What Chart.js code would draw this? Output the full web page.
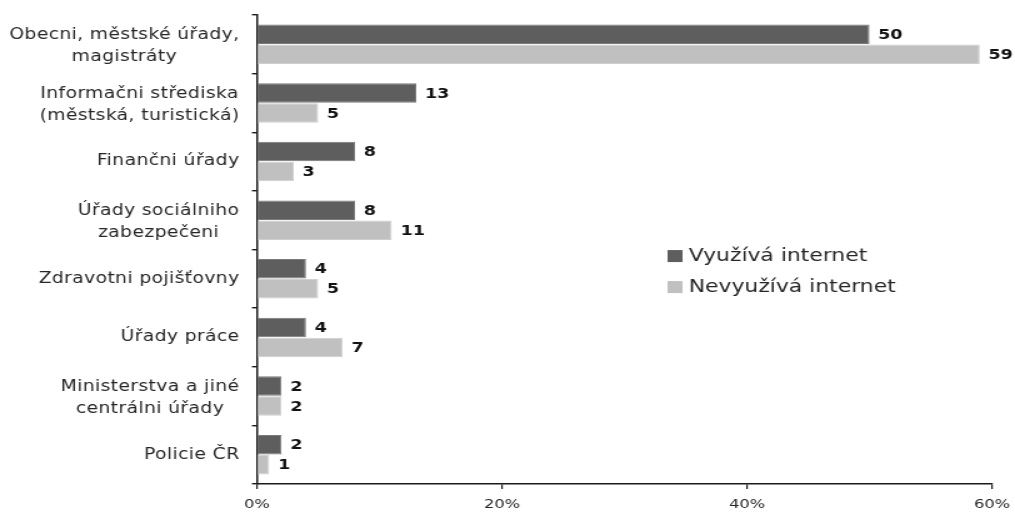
<!DOCTYPE html>
<html>
<head>
<meta charset="utf-8">
<script src="https://cdn.jsdelivr.net/npm/chart.js@4/dist/chart.umd.min.js"></script>
<style>
  html, body { margin: 0; padding: 0; background: #fff; overflow: hidden; }
  /* the chart is laid out on a narrower canvas and widened horizontally */
  #wrap { width: 812px; height: 514px; transform: scaleX(1.25); transform-origin: 0 0; }
</style>
</head>
<body>
<div id="wrap"><canvas id="c"></canvas></div>
<script>
// Categories (multi-line labels are arrays of lines)
const categories = [
  ["Obecni, městské úřady,", "magistráty"],
  ["Informačni střediska", "(městská, turistická)"],
  ["Finančni úřady"],
  ["Úřady sociálniho", "zabezpečeni"],
  ["Zdravotni pojišťovny"],
  ["Úřady práce"],
  ["Ministerstva a jiné", "centrálni úřady"],
  ["Policie ČR"]
];
const seriesNames = ["Využívá internet", "Nevyužívá internet"];
const usesInternet = [50, 13, 8, 8, 4, 4, 2, 2];
const noInternet   = [59, 5, 3, 11, 5, 7, 2, 1];
const xTicks = [0, 20, 40, 60];

const FONT = "'DejaVu Sans', Verdana, sans-serif";
const TEXT = "#262626";

// Category labels: block right-aligned to the axis, lines centred within the block
const categoryLabels = {
  id: 'categoryLabels',
  afterDraw(chart) {
    const ctx = chart.ctx, y = chart.scales.y;
    ctx.save();
    ctx.font = "15px " + FONT;
    ctx.letterSpacing = "0.3px";
    ctx.fillStyle = TEXT;
    ctx.textAlign = 'center';
    ctx.textBaseline = 'middle';
    const right = y.right - 14;
    const lh = 22;
    chart.data.labels.forEach((lines, i) => {
      const w = Math.max(...lines.map(l => ctx.measureText(l).width));
      const cx = right - w / 2;
      const cy = y.getPixelForValue(i) + (lines.length > 1 ? 2 : 0);
      lines.forEach((l, k) => {
        ctx.fillText(l, cx, cy + (k - (lines.length - 1) / 2) * lh);
      });
    });
    ctx.restore();
  }
};

// Value labels at the end of each bar
const valueLabels = {
  id: 'valueLabels',
  afterDatasetsDraw(chart) {
    const ctx = chart.ctx;
    ctx.save();
    ctx.font = "bold 14px " + FONT;
    ctx.fillStyle = "#111";
    ctx.textAlign = 'left';
    ctx.textBaseline = 'middle';
    chart.data.datasets.forEach((ds, di) => {
      chart.getDatasetMeta(di).data.forEach((el, i) => {
        ctx.fillText(String(ds.data[i]), el.x + 7, el.y + 1);
      });
    });
    ctx.restore();
  }
};

// Legend drawn inside the plot area
const innerLegend = {
  id: 'innerLegend',
  afterDraw(chart) {
    const ctx = chart.ctx, a = chart.chartArea;
    const x0 = a.left + 0.5585 * (a.right - a.left);
    const y0 = a.top + 0.514 * (a.bottom - a.top);
    ctx.save();
    ctx.font = "17.5px " + FONT;
    ctx.textBaseline = 'middle';
    ctx.textAlign = 'left';
    chart.data.datasets.forEach((ds, i) => {
      const yy = y0 + i * 31;
      ctx.fillStyle = ds.backgroundColor;
      ctx.fillRect(x0, yy - 6, 12, 12);
      ctx.fillStyle = TEXT;
      ctx.fillText(ds.label, x0 + 17, yy);
    });
    ctx.restore();
  }
};

new Chart(document.getElementById('c'), {
  type: 'bar',
  data: {
    labels: categories,
    datasets: [
      { label: seriesNames[0], data: usesInternet, backgroundColor: '#5e5e5e',
        borderColor: '#7a7a7a', borderWidth: 1, categoryPercentage: 0.68, barPercentage: 0.98 },
      { label: seriesNames[1], data: noInternet, backgroundColor: '#c0c0c0',
        borderColor: '#d0d0d0', borderWidth: 1, categoryPercentage: 0.68, barPercentage: 0.98 }
    ]
  },
  options: {
    indexAxis: 'y',
    responsive: true,
    maintainAspectRatio: false,
    animation: false,
    events: [],
    layout: { padding: { top: 15, right: 18.4, left: 0, bottom: 0 } },
    plugins: { legend: { display: false }, tooltip: { enabled: false } },
    scales: {
      y: {
        offset: true,
        grid: { display: true, drawOnChartArea: false, drawTicks: true, tickLength: 4, color: '#1a1a1a', lineWidth: 1.4, offset: true },
        border: { display: true, color: '#1a1a1a', width: 1.5 },
        ticks: { display: false },
        afterFit(s) { s.width = 205.6; }
      },
      x: {
        min: 0, max: 60,
        afterBuildTicks(s) { s.ticks = xTicks.map(v => ({ value: v })); },
        grid: { display: true, drawOnChartArea: false, drawTicks: true, tickLength: 5, color: '#1a1a1a', lineWidth: 1.2 },
        border: { display: true, color: '#1a1a1a', width: 1.5 },
        ticks: { color: TEXT, font: { family: FONT, size: 13 }, padding: 8, maxRotation: 0,
                 callback: v => v + '%' },
        afterFit(s) { s.height = 30; s.paddingLeft = 0; s.paddingRight = 0; }
      }
    }
  },
  plugins: [categoryLabels, valueLabels, innerLegend]
});
</script>
</body>
</html>
